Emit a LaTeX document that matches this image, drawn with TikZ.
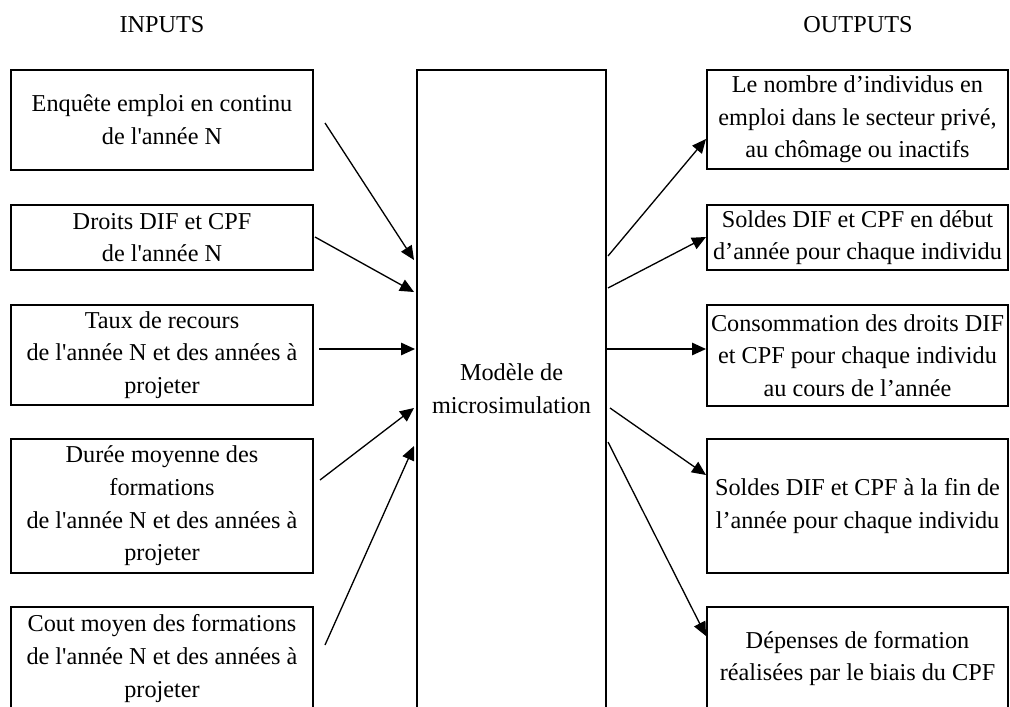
\documentclass[tikz,border=0pt]{standalone}
\usepackage{fontspec}
\setmainfont{Liberation Serif}[Ligatures=TeXOff]
\usetikzlibrary{arrows.meta,positioning}

\begin{document}
\begin{tikzpicture}[x=0.02cm, y=-0.02cm, >={Triangle[length=0.28cm,width=0.25cm]},
    font=\fontsize{13.8}{18.6}\selectfont,
    box/.style={draw, line width=1.1pt, align=center, inner sep=0pt},
    inbox/.style={box, minimum width=6.04cm},
    outbox/.style={box, minimum width=6.02cm},
    arr/.style={->, line width=0.75pt}]
    \useasboundingbox (0,0) rectangle (1010,706);
    \clip (0,0) rectangle (1010,706);

    % Titles
    \node (inputs) at (162,25) {INPUTS};
    \node (outputs) at (858,25) {OUTPUTS};

    % Inputs
    \node[inbox, minimum height=2cm] (in1) at (162,120) {Enquête emploi en continu\\de l'année N};
    \node[inbox, minimum height=1.3cm] (in2) at (162,237.5) {Droits DIF et CPF\\de l'année N};
    \node[inbox, minimum height=2cm] (in3) at (162,355) {Taux de recours\\de l'année N et des années à\\projeter};
    \node[inbox, minimum height=2.68cm] (in4) at (162,506) {Durée moyenne des\\formations\\de l'année N et des années à\\projeter};
    \node[inbox, minimum height=2.06cm] (in5) at (162,658.5) {Cout moyen des formations\\de l'année N et des années à\\projeter};

    % Model
    \node[box, minimum width=3.78cm, minimum height=12.76cm] (model) at (511.5,389) {Modèle de\\microsimulation};

    % Outputs
    \node[outbox, minimum height=1.98cm] (out1) at (857.5,119.5) {Le nombre d’individus en\\emploi dans le secteur privé,\\au chômage ou inactifs};
    \node[outbox, minimum height=1.3cm] (out2) at (857.5,237.5) {Soldes DIF et CPF en début\\d’année pour chaque individu};
    \node[outbox, minimum height=2.02cm] (out3) at (857.5,355.5) {Consommation des droits DIF\\et CPF pour chaque individu\\au cours de l’année};
    \node[outbox, minimum height=2.68cm] (out4) at (857.5,506) {Soldes DIF et CPF à la fin de\\l’année pour chaque individu};
    \node[outbox, minimum height=2.06cm] (out5) at (857.5,658.5) {Dépenses de formation\\réalisées par le biais du CPF};

    % Arrow ends
    \coordinate (a1s) at (325,123);  \coordinate (a1e) at (414,260);
    \coordinate (a2s) at (315,237);  \coordinate (a2e) at (414,292);
    \coordinate (a3s) at (319,349);  \coordinate (a3e) at (415,349);
    \coordinate (a4s) at (320,480);  \coordinate (a4e) at (414,408);
    \coordinate (a5s) at (325,645);  \coordinate (a5e) at (414,446);
    \coordinate (b1s) at (608,256);  \coordinate (b1e) at (706,139);
    \coordinate (b2s) at (608,288);  \coordinate (b2e) at (706,237);
    \coordinate (b3s) at (605,349);  \coordinate (b3e) at (706,349);
    \coordinate (b4s) at (610,408);  \coordinate (b4e) at (706,475);
    \coordinate (b5s) at (608,442);  \coordinate (b5e) at (706,636);

    % Arrows into the model
    \draw[arr] (a1s) -- (a1e);
    \draw[arr] (a2s) -- (a2e);
    \draw[arr] (a3s) -- (a3e);
    \draw[arr] (a4s) -- (a4e);
    \draw[arr] (a5s) -- (a5e);

    % Arrows out of the model
    \draw[arr] (b1s) -- (b1e);
    \draw[arr] (b2s) -- (b2e);
    \draw[arr] (b3s) -- (b3e);
    \draw[arr] (b4s) -- (b4e);
    \draw[arr] (b5s) -- (b5e);
\end{tikzpicture}
\end{document}
